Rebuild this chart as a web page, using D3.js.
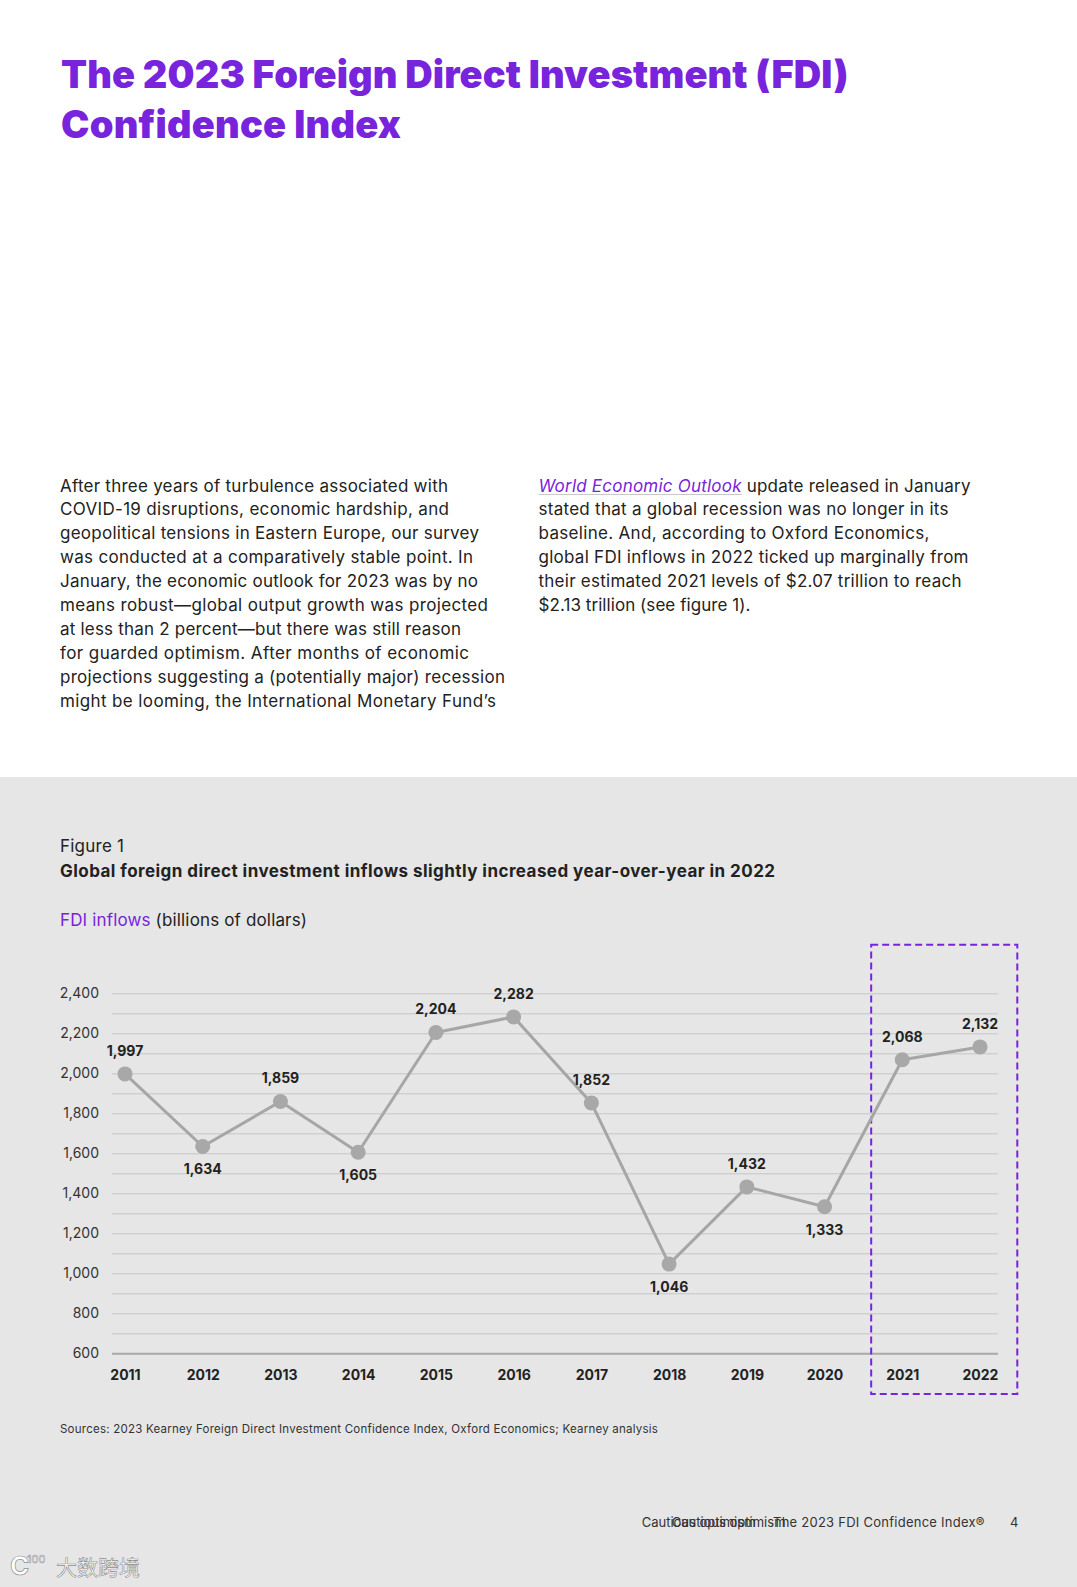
<!DOCTYPE html>
<html><head><meta charset="utf-8">
<script src="https://cdn.jsdelivr.net/npm/d3@7"></script>
<style>body{margin:0;background:#fff}svg{display:block}</style>
</head><body>
<svg id="page" width="1077" height="1587"></svg>
<script>
// ---------- data ----------
const years = [2011, 2012, 2013, 2014, 2015, 2016, 2017, 2018, 2019, 2020, 2021, 2022];
const inflows = [1997, 1634, 1859, 1605, 2204, 2282, 1852, 1046, 1432, 1333, 2068, 2132];
const yTickLabels = [600, 800, 1000, 1200, 1400, 1600, 1800, 2000, 2200, 2400];
const highlightYears = [2021, 2022];

const titleLines = ["The 2023 Foreign Direct Investment (FDI)", "Confidence Index"];
const leftParagraph = [
  "After three years of turbulence associated with",
  "COVID-19 disruptions, economic hardship, and",
  "geopolitical tensions in Eastern Europe, our survey",
  "was conducted at a comparatively stable point. In",
  "January, the economic outlook for 2023 was by no",
  "means robust\u2014global output growth was projected",
  "at less than 2 percent\u2014but there was still reason",
  "for guarded optimism. After months of economic",
  "projections suggesting a (potentially major) recession",
  "might be looming, the International Monetary Fund\u2019s"
];
const leftWidths = [388, 389, 419, 413, 418, 428, 401, 409, 445, 436];
const rightLead = "World Economic Outlook";
const rightParagraph = [
  " update released in January",
  "stated that a global recession was no longer in its",
  "baseline. And, according to Oxford Economics,",
  "global FDI inflows in 2022 ticked up marginally from",
  "their estimated 2021 levels of $2.07 trillion to reach",
  "$2.13 trillion (see figure 1)."
];
const rightWidths = [432, 410, 391, 430, 423, 212];

const PURPLE = "#7823dc";
const FONT = "Inter, 'Noto Sans', sans-serif";

const svg = d3.select("#page");

function fitWidth(sel, target) {
  const node = sel.node();
  const n = node.getNumberOfChars();
  const w = node.getComputedTextLength();
  sel.attr("letter-spacing", ((target - w) / Math.max(1, n - 1)).toFixed(3));
}

// ---------- page background ----------
svg.append("rect").attr("x", 0).attr("y", 0).attr("width", 1077).attr("height", 1587).attr("fill", "#ffffff");
svg.append("rect").attr("x", 0).attr("y", 777).attr("width", 1077).attr("height", 810).attr("fill", "#e6e6e6");

// ---------- title ----------
const titleWidths = [785, 340];
titleLines.forEach((t, i) => {
  const s = svg.append("text").attr("x", 61).attr("y", 88 + i * 50)
    .attr("font-family", FONT).attr("font-weight", 900).attr("font-size", 38)
    .attr("fill", PURPLE).text(t);
  fitWidth(s, titleWidths[i]);
});

// ---------- body text ----------
const lineH = 23.96;
leftParagraph.forEach((t, i) => {
  const s = svg.append("text").attr("x", 60).attr("y", 491.5 + i * lineH)
    .attr("font-family", FONT).attr("font-size", 17).attr("fill", "#222").text(t);
  fitWidth(s, leftWidths[i]);
});
rightParagraph.forEach((t, i) => {
  const s = svg.append("text").attr("x", 538.5).attr("y", 491.5 + i * lineH)
    .attr("font-family", FONT).attr("font-size", 17).attr("fill", "#222");
  if (i === 0) {
    const lead = s.append("tspan").attr("font-style", "italic").attr("fill", PURPLE).text(rightLead);
    s.append("tspan").text(t);
    fitWidth(s, rightWidths[i]);
    const leadW = lead.node().getComputedTextLength();
    svg.append("line").attr("x1", 538.5).attr("x2", 538.5 + leadW)
      .attr("y1", 494.5).attr("y2", 494.5).attr("stroke", "#c9c9c9").attr("stroke-width", 1);
  } else {
    s.text(t);
    fitWidth(s, rightWidths[i]);
  }
});

// ---------- figure header ----------
const f1 = svg.append("text").attr("x", 60).attr("y", 852).attr("font-family", FONT)
  .attr("font-size", 17).attr("fill", "#222").text("Figure 1");
fitWidth(f1, 64);
const st = svg.append("text").attr("x", 60).attr("y", 876.5).attr("font-family", FONT)
  .attr("font-size", 17).attr("font-weight", 700).attr("fill", "#222")
  .text("Global foreign direct investment inflows slightly increased year-over-year in 2022");
fitWidth(st, 715);
const un = svg.append("text").attr("x", 60).attr("y", 926).attr("font-family", FONT)
  .attr("font-size", 17).attr("fill", "#222");
un.append("tspan").attr("fill", PURPLE).text("FDI inflows");
un.append("tspan").text(" (billions of dollars)");
fitWidth(un, 247);

// ---------- chart ----------
const x = d3.scalePoint().domain(years).range([125, 980]);
const y = d3.scaleLinear().domain([600, 2400]).range([1353.3, 993.3]);
const gridLeft = 112, gridRight = 998;
const fmt = d3.format(",");

const yAxis = svg.append("g").attr("transform", `translate(${gridLeft},0)`)
  .call(d3.axisLeft(y).tickValues(y.ticks(18)).tickSize(-(gridRight - gridLeft)).tickPadding(13)
    .tickFormat(d => yTickLabels.includes(d) ? fmt(d) : ""));
yAxis.select(".domain").remove();
yAxis.selectAll(".tick line").attr("stroke", "#c5c5c5").attr("stroke-width", 1)
  .filter(d => d === 600).attr("stroke", "#a9a9a9").attr("stroke-width", 2);
yAxis.selectAll(".tick text").attr("font-family", FONT).attr("font-size", 14).attr("fill", "#333");

const xAxis = svg.append("g").attr("transform", `translate(0,${y(600)})`)
  .call(d3.axisBottom(x).tickSize(0).tickPadding(17));
xAxis.select(".domain").remove();
xAxis.selectAll(".tick text").attr("font-family", FONT).attr("font-size", 14)
  .attr("font-weight", 700).attr("fill", "#222");

// highlight box
const step = x.step();
svg.append("rect")
  .attr("x", x(highlightYears[0]) - step * 0.4)
  .attr("y", 944.7)
  .attr("width", (x(highlightYears[1]) + step * 0.48) - (x(highlightYears[0]) - step * 0.4))
  .attr("height", 1394 - 944.7)
  .attr("fill", "none").attr("stroke", PURPLE).attr("stroke-width", 2)
  .attr("stroke-dasharray", "7,4");

const pts = years.map((yr, i) => ({ year: yr, v: inflows[i], i }));
svg.append("path").datum(pts)
  .attr("d", d3.line().x(d => x(d.year)).y(d => y(d.v)))
  .attr("fill", "none").attr("stroke", "#a6a6a6").attr("stroke-width", 3).attr("stroke-linejoin", "round");
svg.selectAll("circle.pt").data(pts).join("circle").attr("class", "pt")
  .attr("cx", d => x(d.year)).attr("cy", d => y(d.v)).attr("r", 7.5).attr("fill", "#a8a8a8");

function isLocalMin(d) {
  const prev = d.i > 0 ? inflows[d.i - 1] : Infinity;
  const next = d.i < inflows.length - 1 ? inflows[d.i + 1] : Infinity;
  return d.v < prev && d.v < next;
}
svg.selectAll("text.lbl").data(pts).join("text").attr("class", "lbl")
  .attr("x", d => x(d.year))
  .attr("y", d => y(d.v) + (isLocalMin(d) ? 23 : -23))
  .attr("dy", "0.35em")
  .attr("text-anchor", "middle").attr("font-family", FONT).attr("font-size", 14)
  .attr("font-weight", 700).attr("fill", "#222").text(d => fmt(d.v));

// ---------- source & footer ----------
const src = svg.append("text").attr("x", 60).attr("y", 1433).attr("font-family", FONT)
  .attr("font-size", 11.5).attr("fill", "#333")
  .text("Sources: 2023 Kearney Foreign Direct Investment Confidence Index, Oxford Economics; Kearney analysis");
fitWidth(src, 598);

// footer (the reference shows a doubled, overlapping running head)
const foot = svg.append("text").attr("y", 1527).attr("font-family", FONT)
  .attr("font-size", 13).attr("fill", "#333");
foot.append("tspan").attr("x", 641.7).text("Cautious optimism");
foot.append("tspan").attr("x", 671.7).text("Cautious optimism");
foot.append("tspan").attr("x", 773).attr("letter-spacing", 0.25).text("The 2023 FDI Confidence Index\u00ae");
foot.append("tspan").attr("x", 1010).text("4");

// ---------- watermark ----------
const wm = svg.append("g");
wm.append("text").attr("x", 10).attr("y", 1575).attr("font-family", FONT).attr("font-size", 26)
  .attr("font-weight", 700).attr("fill", "#ffffff").attr("stroke", "#8f8f8f").attr("stroke-width", 0.7).text("C");
wm.append("text").attr("x", 27).attr("y", 1563).attr("font-family", FONT).attr("font-size", 11)
  .attr("fill", "#ffffff").attr("stroke", "#8f8f8f").attr("stroke-width", 0.5).text("100");
wm.append("text").attr("x", 56).attr("y", 1575).attr("font-family", "'Noto Sans CJK SC', sans-serif").attr("font-size", 21)
  .attr("fill", "#ffffff").attr("stroke", "#8f8f8f").attr("stroke-width", 0.6).text("大数跨境");
</script>
</body></html>
